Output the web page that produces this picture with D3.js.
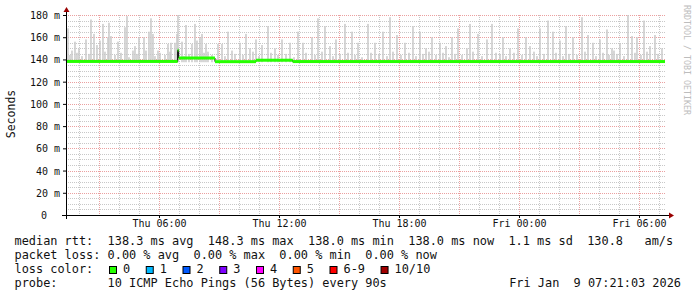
<!DOCTYPE html>
<html>
<head>
<meta charset="utf-8">
<script src="https://cdn.jsdelivr.net/npm/d3@7"></script>
<style>
  body { margin: 0; background: #fff; }
  svg { display: block; }
  text { font-family: "DejaVu Sans Mono", monospace; white-space: pre; }
</style>
</head>
<body>
<div id="chart"></div>
<script>
// median rtt steps: minutes since Thu 00:00, value in ms
const medianMinutes = [81, 416, 419, 528, 651, 761, 1878];
const medianValues = [138.2, 148.3, 141.3, 138.0, 139.3, 138.1];

// smoke spikes (max ping of a round): minutes since Thu 00:00, top in ms
const smokeMinutes = [87, 99, 108, 120, 141, 156, 165, 174, 183, 192, 207, 210, 216, 237, 258, 264, 282, 288, 300, 315,
  330, 336, 342, 357, 387, 396, 408, 414, 417, 429, 441, 459, 468, 474, 483, 489, 501, 507, 537, 549, 567, 579,
  603, 621, 633, 651, 669, 687, 708, 729, 753, 777, 792, 819, 837, 858, 873, 891, 918, 939, 957, 987, 1008, 1032,
  1053, 1074, 1098, 1122, 1143, 1161, 1179, 1203, 1221, 1239, 1257, 1284, 1293, 1317, 1344, 1359, 1392, 1413, 1437,
  1461, 1473, 1503, 1527, 1542, 1563, 1581, 1602, 1629, 1647, 1662, 1683, 1704, 1719, 1725, 1743, 1767, 1779, 1794,
  1815, 1833, 1848, 1869];
const smokeTops = [168, 148, 156, 150, 158, 176, 163, 153, 157, 172, 160, 173, 161, 156, 169, 179, 148, 152, 160, 160,
  165, 177, 163, 148, 154, 155, 155, 163, 180, 156, 171, 154, 172, 157, 160, 163, 154, 147, 154, 154, 165, 148,
  155, 163, 150, 158, 153, 170, 150, 158, 155, 165, 155, 160, 177, 170, 152, 158, 172, 165, 155, 172, 155, 165,
  178, 162, 155, 170, 165, 150, 160, 155, 152, 160, 168, 150, 172, 163, 158, 172, 160, 150, 168,
  160, 152, 168, 175, 165, 157, 170, 160, 178, 162, 155, 158, 167, 150, 148, 154, 180, 161, 160,
  175, 152, 162, 150];
// shorter smoke close to the median
const lowMinutes = [93, 114, 129, 150, 198, 228, 246, 270, 294, 321, 348, 363, 378, 393, 435, 450, 495, 519, 558,
  588, 612, 642, 660, 696, 717, 741, 765, 801, 828, 849, 882, 903, 927, 948, 969, 996, 1020, 1044, 1062, 1086,
  1110, 1131, 1152, 1170, 1191, 1212, 1230, 1248, 1269, 1302, 1329, 1371, 1383, 1401, 1425, 1449, 1485, 1494,
  1515, 1551, 1572, 1590, 1614, 1638, 1671, 1692, 1710, 1734, 1755, 1788, 1806, 1824, 1857];
const lowTops = [144, 146, 143, 145, 147, 144, 146, 142, 145, 148, 143, 146, 144, 147, 143, 145, 146, 144, 143,
  145, 144, 147, 143, 146, 144, 145, 142, 146, 144, 147, 143, 145, 146, 144, 142, 146, 145, 143, 147, 144,
  146, 143, 145, 147, 144, 146, 142, 145, 144, 147, 143, 146, 145, 143, 146, 144, 147, 143,
  145, 146, 143, 145, 144, 147, 143, 146, 144, 145, 143, 146, 144, 147, 145];

const yTicks = [0, 20, 40, 60, 80, 100, 120, 140, 160, 180];
const lossLabels = ["0", "1", "2", "3", "4", "5", "6-9", "10/10"];
const lossColors = ["#26ff00", "#00b8ff", "#0059ff", "#7e00ff", "#ff00ff", "#ff5500", "#ff0000", "#a10000"];

const legendLines = [
  "median rtt:  138.3 ms avg  148.3 ms max  138.0 ms min  138.0 ms now  1.1 ms sd  130.8   am/s",
  "packet loss: 0.00 % avg  0.00 % max  0.00 % min  0.00 % now",
  "loss color:",
  "probe:       10 ICMP Echo Pings (56 Bytes) every 90s"
];
const stamp = "Fri Jan  9 07:21:03 2026";

const base = new Date(2026, 0, 8, 0, 0, 0);
const toDate = m => d3.timeMinute.offset(base, m);
const start = new Date(2026, 0, 8, 1, 21, 3);
const end = new Date(2026, 0, 9, 7, 21, 3);

const svg = d3.select("#chart").append("svg")
    .attr("width", 697)
    .attr("height", 297);

svg.append("rect").attr("width", 697).attr("height", 297).attr("fill", "#fff");

const x = d3.scaleTime().domain([start, end]).range([66, 666]);
const y = d3.scaleLinear().domain([0, 180]).range([215, 15]);

// grid
const grid = svg.append("g");
grid.selectAll(".hminor")
    .data(d3.range(0, 181, 5).filter(v => v % 20 != 0))
    .enter().append("line")
        .attr("x1", 66).attr("x2", 666)
        .attr("y1", d => Math.round(y(d)) + 0.5).attr("y2", d => Math.round(y(d)) + 0.5)
        .attr("stroke", "#c8c8c8").attr("stroke-dasharray", "1,1");
grid.selectAll(".vminor")
    .data(x.ticks(d3.timeHour.every(1)).filter(d => d.getHours() % 3 != 0))
    .enter().append("line")
        .attr("x1", d => Math.round(x(d)) + 0.5).attr("x2", d => Math.round(x(d)) + 0.5)
        .attr("y1", 15).attr("y2", 215)
        .attr("stroke", "#c8c8c8").attr("stroke-dasharray", "1,1");
grid.selectAll(".hmajor")
    .data(yTicks.filter(v => v > 0))
    .enter().append("line")
        .attr("x1", 66).attr("x2", 666)
        .attr("y1", d => Math.round(y(d)) + 0.5).attr("y2", d => Math.round(y(d)) + 0.5)
        .attr("stroke", "#eba0a0").attr("stroke-dasharray", "1,1");
grid.selectAll(".vmajor")
    .data(x.ticks(d3.timeHour.every(3)))
    .enter().append("line")
        .attr("x1", d => Math.round(x(d)) + 0.5).attr("x2", d => Math.round(x(d)) + 0.5)
        .attr("y1", 15).attr("y2", 215)
        .attr("stroke", "#eba0a0").attr("stroke-dasharray", "1,1");

// smoke
const smoke = smokeMinutes.map((m, i) => ({t: toDate(m), v: smokeTops[i]}))
    .concat(lowMinutes.map((m, i) => ({t: toDate(m), v: lowTops[i]})));
svg.append("g").selectAll("rect")
    .data(smoke)
    .enter().append("rect")
        .attr("x", d => x(d.t) - 0.75)
        .attr("y", d => y(d.v))
        .attr("width", 1.5)
        .attr("height", d => y(137.5) - y(d.v))
        .attr("fill", "#c9c9c9");

// median: thin black step line underneath, green bands on top
const steps = medianValues.map((v, i) => ({t0: toDate(medianMinutes[i]), t1: toDate(medianMinutes[i + 1]), v: v}));
const stepPoints = [];
steps.forEach(s => { stepPoints.push([s.t0, s.v]); stepPoints.push([s.t1, s.v]); });
svg.append("path")
    .attr("d", d3.line().x(d => x(d[0])).y(d => y(d[1]))(stepPoints))
    .attr("fill", "none")
    .attr("stroke", "#000")
    .attr("stroke-width", 1);
svg.append("g").selectAll("rect")
    .data(steps)
    .enter().append("rect")
        .attr("x", d => x(d.t0))
        .attr("y", d => y(d.v) - 1.5)
        .attr("width", d => Math.max(1, x(d.t1) - x(d.t0)))
        .attr("height", 3)
        .attr("fill", lossColors[0]);

// axes
const yAxis = svg.append("g")
    .attr("transform", "translate(66, 0)")
    .call(d3.axisLeft(y).tickValues(yTicks).tickSize(3)
        .tickFormat(d => d == 0 ? "0" : d + " m"));
yAxis.select(".domain").remove();
yAxis.selectAll("line").attr("stroke", "#000");
yAxis.selectAll("text")
    .attr("font-family", "DejaVu Sans Mono")
    .attr("font-size", "10px")
    .attr("fill", "#111")
    .attr("x", d => d == 0 ? -19 : -6)
    .attr("dy", "0.35em");

const xAxis = svg.append("g")
    .attr("transform", "translate(0, 215)")
    .call(d3.axisBottom(x).ticks(d3.timeHour.every(6)).tickSize(3)
        .tickFormat(d3.timeFormat("%a %H:%M")));
xAxis.select(".domain").remove();
xAxis.selectAll("line").attr("stroke", "#000");
xAxis.selectAll("text")
    .attr("font-family", "DejaVu Sans Mono")
    .attr("font-size", "10px")
    .attr("fill", "#111")
    .attr("y", 12)
    .attr("dy", 0);

svg.append("line").attr("x1", 66.5).attr("x2", 66.5).attr("y1", 219).attr("y2", 11).attr("stroke", "#000");
svg.append("line").attr("x1", 62).attr("x2", 670).attr("y1", 215.5).attr("y2", 215.5).attr("stroke", "#000");
svg.append("path").attr("d", "M63.5,12 L66.5,7 L69.5,12 Z").attr("fill", "#990000");
svg.append("path").attr("d", "M669,212.5 L674,215.5 L669,218.5 Z").attr("fill", "#990000");

svg.append("text")
    .attr("transform", "translate(15, 114) rotate(-90)")
    .attr("text-anchor", "middle")
    .attr("font-size", "11.5px")
    .attr("fill", "#111")
    .text("Seconds");

svg.append("text")
    .attr("transform", "translate(684, 5) rotate(90)")
    .attr("font-size", "8.3px")
    .attr("fill", "#bdbdbd")
    .text("RRDTOOL / TOBI OETIKER");

// legend
const legend = svg.append("g").attr("font-size", "11.9px").attr("fill", "#111");
legend.selectAll("text.line")
    .data(legendLines)
    .enter().append("text")
        .attr("x", 14.5)
        .attr("y", (d, i) => 245 + i * 14)
        .text(d => d);
legend.append("text")
    .attr("x", 681)
    .attr("y", 287)
    .attr("text-anchor", "end")
    .text(stamp);

let bx = 109;
const boxes = lossLabels.map(l => {
    const e = {label: l, x: bx};
    bx += (l.length + 4) * 7.15 + 1;
    return e;
});
const lossEntry = legend.selectAll("g.loss")
    .data(boxes)
    .enter().append("g");
lossEntry.append("rect")
    .attr("x", d => d.x + 0.5)
    .attr("y", 266.5)
    .attr("width", 7)
    .attr("height", 7)
    .attr("fill", (d, i) => lossColors[i])
    .attr("stroke", "#000");
lossEntry.append("text")
    .attr("x", d => d.x + 14)
    .attr("y", 273)
    .text(d => d.label);
</script>
</body>
</html>
